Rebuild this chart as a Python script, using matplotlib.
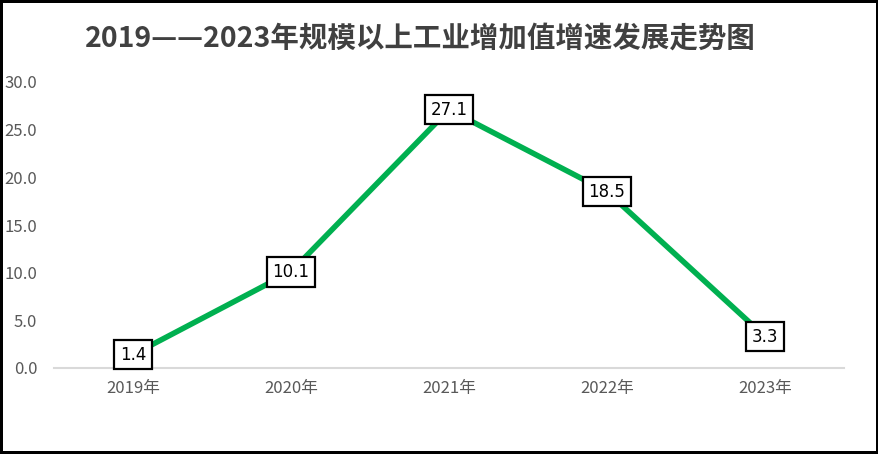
import numpy as np
import matplotlib.pyplot as plt

plt.rcParams['font.family'] = ['Noto Sans CJK SC', 'DejaVu Sans']

years = ['2019年', '2020年', '2021年', '2022年', '2023年']
growth = [1.4, 10.1, 27.1, 18.5, 3.3]
yticks = [0, 5, 10, 15, 20, 25, 30]

fig = plt.figure(figsize=(8.79, 4.54), dpi=100)
fig.patch.set_edgecolor('black')
fig.patch.set_linewidth(3)

ax = fig.add_axes([54/879, (454-368)/454, 790/879, (368-82)/454])
x = np.arange(len(years))
ax.plot(x, growth, color='#00B050', linewidth=4, solid_capstyle='round')

for xi, v in zip(x, growth):
    ax.text(xi, v, f'{v:.1f}', ha='center', va='center', fontsize=12,
            family=['DejaVu Sans'],
            bbox=dict(boxstyle='square,pad=0.35', facecolor='white',
                      edgecolor='black', linewidth=1.6))

ax.set_xlim(-0.5, len(years) - 0.5)
ax.set_ylim(0, 30)
ax.set_xticks(x)
ax.set_xticklabels(years)
ax.set_yticks(yticks)
ax.set_yticklabels([f'{t:.1f}' for t in yticks])
ax.tick_params(length=0, labelsize=12, colors='#595959')
ax.tick_params(axis='x', pad=9)
ax.tick_params(axis='y', pad=12)
for side in ['top', 'right', 'left']:
    ax.spines[side].set_visible(False)
ax.spines['bottom'].set_color('#D9D9D9')
ax.spines['bottom'].set_linewidth(1.5)

fig.text(420/879, 1 - 39/454, '2019——2023年规模以上工业增加值增速发展走势图',
         ha='center', va='center', fontsize=20.5, fontweight='bold', color='#404040')

fig.savefig('out.png', dpi=100, edgecolor=fig.get_edgecolor())
